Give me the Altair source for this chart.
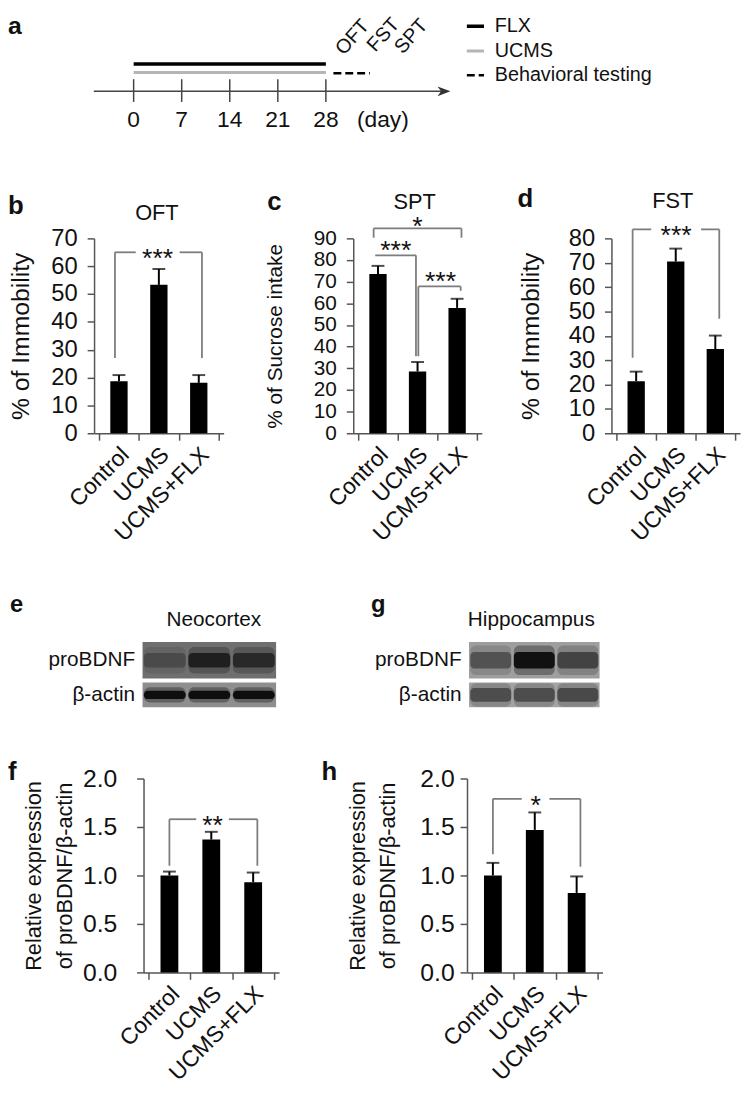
import altair as alt
import pandas as pd

FONT = "Liberation Sans"
AX = "#555555"
BR = "#7d7d7d"
TXT = "#111111"

# ------------------------------------------------------------------ data
groups = ["Control", "UCMS", "UCMS+FLX"]

# panel a : timeline
tl_days = [0, 7, 14, 21, 28]
tl_labels = ["0", "7", "14", "21", "28"]
phases = ["FLX", "UCMS", "Behavioral testing"]
phase_start = [0, 0, 29.1]
phase_end = [28, 28, 34.4]
phase_track = [6.23, 5.58, 5.53]
tests = ["OFT", "FST", "SPT"]
test_day = [30.6, 35.2, 39.2]
test_track = [6.85, 7.1, 6.95]

# panels b, c, d
oft_mean = [18.7, 53.3, 18.1]
oft_err = [20.9, 59.0, 20.9]
spt_mean = [73.5, 28.5, 57.9]
spt_err = [77.3, 32.9, 62.1]
fst_mean = [21.4, 70.5, 34.6]
fst_err = [25.3, 75.8, 40.1]

# panels f, h
neo_mean = [1.00, 1.37, 0.93]
neo_err = [1.04, 1.45, 1.03]
hip_mean = [1.00, 1.47, 0.82]
hip_err = [1.13, 1.65, 0.99]

# western blot band intensities (e, g)
neo_pro = [0.35, 0.9, 0.75]
neo_act = [0.95, 0.95, 0.95]
hip_pro = [0.45, 1.0, 0.55]
hip_act = [0.75, 0.75, 0.8]

# significance brackets
oft_br = [dict(x1=-0.1, x2=2.08, level=65, d1=27, d2=27, label="***", lx=0.97, ly=65, gap=0.55)]
spt_br = [
    dict(x1=-0.11, x2=2.11, level=94.6, d1=90.3, d2=90.3, label="*", lx=1.0, ly=98.5, gap=0),
    dict(x1=-0.07, x2=0.96, level=82.2, d1=None, d2=35.6, label="***", lx=0.45, ly=87.5, gap=0),
    dict(x1=1.02, x2=2.09, level=67.8, d1=35.6, d2=65.8, label="***", lx=1.58, ly=73.0, gap=0),
]
fst_br = [dict(x1=-0.09, x2=2.1, level=83.7, d1=31, d2=47, label="***", lx=1.01, ly=83.7, gap=0.63)]
neo_br = [dict(x1=0.0, x2=2.1, level=1.58, d1=1.10, d2=1.10, label="**", lx=1.03, ly=1.58, gap=0.39)]
hip_br = [dict(x1=0.0, x2=2.09, level=1.79, d1=1.22, d2=1.09, label="*", lx=1.02, ly=1.79, gap=0.33)]


def text_layer(txt, x, y, size, weight="normal", align="center", baseline="middle"):
    return alt.Chart(pd.DataFrame({"t": [txt]})).mark_text(
        fontSize=size, fontWeight=weight, align=align, baseline=baseline, color=TXT, font=FONT
    ).encode(x=alt.value(x), y=alt.value(y), text="t:N")


def spacer(w, h):
    return alt.Chart(pd.DataFrame({"t": [0]})).mark_rect(opacity=0).encode(
        x=alt.value(0), x2=alt.value(w), y=alt.value(0), y2=alt.value(h)
    ).properties(width=w, height=h)


# ------------------------------------------------------------------ panel a
def panel_a():
    W, H = 744, 132
    xs = alt.Scale(domain=[-18.3, 88.9], nice=False, zero=False)
    ys = alt.Scale(domain=[0, 10], nice=False, zero=False)

    def X(f):
        return alt.X(f, scale=xs, axis=None)

    def Y(f):
        return alt.Y(f, scale=ys, axis=None)

    line = alt.Chart(pd.DataFrame({"k": [0]})).transform_calculate(
        s="-5.8", e="45.4", y="4.14"
    ).mark_rule(color="#444444", strokeWidth=1.6).encode(x=X("s:Q"), x2="e:Q", y=Y("y:Q"))
    arrow = alt.Chart(pd.DataFrame({"k": [0]})).transform_calculate(
        x="45.2", y="4.14"
    ).mark_point(
        shape="M -1 -0.75 L 1 0 L -1 0.75 L -0.45 0 Z", filled=True, color="#333333", size=170, opacity=1
    ).encode(x=X("x:Q"), y=Y("y:Q"))
    dticks = alt.Chart(pd.DataFrame({"d": tl_days, "lab": tl_labels})).transform_calculate(
        lo="3.33", hi="5.07", ty="1.94"
    )
    ticks = dticks.mark_rule(color="#444444", strokeWidth=1.5).encode(x=X("d:Q"), y=Y("lo:Q"), y2="hi:Q")
    tlabs = dticks.mark_text(fontSize=23, color=TXT, baseline="middle").encode(
        x=X("d:Q"), y=Y("ty:Q"), text="lab:N"
    )
    day = alt.Chart(pd.DataFrame({"t": ["(day)"]})).transform_calculate(
        x="36.3", y="1.94"
    ).mark_text(fontSize=23, color=TXT, baseline="middle").encode(x=X("x:Q"), y=Y("y:Q"), text="t:N")

    leg = alt.Legend(
        title=None, orient="none", legendX=462, legendY=1, symbolType="stroke", symbolSize=300,
        symbolStrokeWidth=3.5, labelFontSize=20, labelOffset=9, rowPadding=4, padding=0,
        labelColor=TXT, labelFont=FONT,
    )
    pdf = pd.DataFrame({"phase": phases, "start": phase_start, "end": phase_end, "track": phase_track})
    plines = alt.Chart(pdf).mark_rule().encode(
        x=X("start:Q"), x2="end:Q", y=Y("track:Q"),
        color=alt.Color("phase:N", scale=alt.Scale(domain=phases, range=["#000000", "#b5b5b5", "#000000"]), legend=leg),
        strokeDash=alt.StrokeDash("phase:N", scale=alt.Scale(domain=phases, range=[[1, 0], [1, 0], [8, 4]]), legend=leg),
        strokeWidth=alt.StrokeWidth("phase:N", scale=alt.Scale(domain=phases, range=[3.5, 2.5, 3.2]), legend=None),
    )
    tdf = pd.DataFrame({"t": tests, "d": test_day, "y": test_track})
    tlab = alt.Chart(tdf).mark_text(angle=312, align="left", baseline="alphabetic", fontSize=20, color=TXT).encode(
        x=X("d:Q"), y=Y("y:Q"), text="t:N"
    )
    letter = text_layer("a", 0, 11, 25, "bold", "left")
    return alt.layer(line, arrow, ticks, tlabs, day, plines, tlab, letter).properties(width=W, height=H)


# ------------------------------------------------------------------ bar panels
def bar_panel(means, errs, ymax, ystep, width, height, ytitle, ytitle_dx, ytitle_size, title, title_dx, title_dy,
              letter, letter_dx, letter_dy, brackets, fmt="d", bar_w=17.5, tick_font=24, label_pad=10):
    df = pd.DataFrame({"group": groups, "idx": [0, 1, 2], "mean": means, "err": errs})
    xs = alt.Scale(domain=[-0.5, 2.5], nice=False, zero=False)
    ys = alt.Scale(domain=[0, ymax], nice=False, zero=True)
    expr = "".join(f"datum.value == {i + 0.5} ? '{g}' : " for i, g in enumerate(groups)) + "''"
    xaxis = alt.Axis(
        values=[-0.5, 0.5, 1.5, 2.5], labelExpr=expr, labelOffset=-width / 6, labelAngle=315,
        labelOverlap=False, labelFlush=False, labelBound=False, title=None, grid=False,
        tickSize=7, labelPadding=3, labelFontSize=23,
    )
    n = int(round(ymax / ystep))
    yvals = [round(i * ystep, 3) for i in range(n + 1)]
    yaxis = alt.Axis(
        values=yvals, format=fmt, title=ytitle, titleX=ytitle_dx, titleY=height / 2, titleAngle=270,
        titleAlign="center", titleBaseline="middle", grid=False, tickSize=7, labelFontSize=tick_font,
        labelPadding=label_pad, titleFontSize=ytitle_size, titleFontWeight="normal", labelFlush=False,
        labelOverlap=False, titleLineHeight=31,
    )

    def X(f):
        return alt.X(f, scale=xs, axis=xaxis)

    def Y(f):
        return alt.Y(f, scale=ys, axis=yaxis)

    base = alt.Chart(df)
    bars = base.mark_bar(size=bar_w, color="black").encode(x=X("idx:Q"), y=Y("mean:Q"))
    eline = base.mark_rule(color="black", strokeWidth=2).encode(x=X("idx:Q"), y=Y("mean:Q"), y2="err:Q")
    caps = base.mark_tick(size=13, thickness=2, orient="horizontal", color="black").encode(x=X("idx:Q"), y=Y("err:Q"))

    segs = []
    labs = []
    for b in brackets:
        lv = b["level"]
        if b["gap"] > 0:
            segs.append((b["x1"], b["lx"] - b["gap"], lv, lv))
            segs.append((b["lx"] + b["gap"], b["x2"], lv, lv))
        else:
            segs.append((b["x1"], b["x2"], lv, lv))
        if b["d1"] is not None:
            segs.append((b["x1"], b["x1"], lv, b["d1"]))
        if b["d2"] is not None:
            segs.append((b["x2"], b["x2"], lv, b["d2"]))
        labs.append((b["lx"], b["ly"], b["label"]))
    sdf = pd.DataFrame(segs, columns=["x", "x2", "y", "y2"])
    ldf = pd.DataFrame(labs, columns=["x", "y", "t"])
    brk = alt.Chart(sdf).mark_rule(color=BR, strokeWidth=1.8).encode(x=X("x:Q"), x2="x2:Q", y=Y("y:Q"), y2="y2:Q")
    stars = alt.Chart(ldf).mark_text(fontSize=27, color=TXT, baseline="middle", dy=7).encode(
        x=X("x:Q"), y=Y("y:Q"), text="t:N"
    )
    layers = [bars, eline, caps, brk, stars, text_layer(letter, letter_dx, letter_dy, 26, "bold", "left")]
    if title:
        layers.append(text_layer(title, width / 2 + title_dx, title_dy, 22))
    return alt.layer(*layers).properties(width=width, height=height)


# ------------------------------------------------------------------ blots
def strip(label, intens, bg, band_color, width, height, band_h, extra=()):
    Y = alt.Y("row:N", title=None,
              axis=alt.Axis(ticks=False, domain=False, labelFontSize=21, labelPadding=8, labelColor=TXT, labelFont=FONT),
              scale=alt.Scale(paddingInner=0, paddingOuter=0))
    X = alt.X("lane:N", sort=groups, axis=None, scale=alt.Scale(domain=groups, paddingInner=0.06, paddingOuter=0.03))
    bgl = alt.Chart(pd.DataFrame({"row": [label]})).mark_rect(color=bg).encode(
        y=Y, x=alt.value(0), x2=alt.value(width)
    )
    bdf = pd.DataFrame({"lane": groups, "row": [label] * 3, "intensity": intens})
    halo = alt.Chart(bdf).transform_calculate(o="datum.intensity * 0.35").mark_bar(
        color=band_color, height={"band": min(band_h * 1.8, 0.95)}, cornerRadius=6
    ).encode(x=X, y=Y, opacity=alt.Opacity("o:Q", scale=None, legend=None))
    core = alt.Chart(bdf).mark_bar(color=band_color, height={"band": band_h}, cornerRadius=4).encode(
        x=X, y=Y, opacity=alt.Opacity("intensity:Q", scale=None, legend=None)
    )
    return alt.layer(bgl, halo, core, *extra).properties(width=width, height=height)


# ------------------------------------------------------------------ assemble
a = panel_a()

b = bar_panel(oft_mean, oft_err, 70, 10, 131, 197, "% of Immobility", -74, 25, "OFT", -2, -26,
              "b", -87, -33, oft_br)
c = bar_panel(spt_mean, spt_err, 90, 10, 130, 197, "% of Sucrose intake", -79, 21, "SPT", -3, -37,
              "c", -87, -37, spt_br, tick_font=21)
d = bar_panel(fst_mean, fst_err, 80, 10, 130, 197, "% of Immobility", -82, 25, "FST", -3, -38,
              "d", -95, -40, fst_br)

e_pro = strip("proBDNF", neo_pro, "#6f6f6f", "#1a1a1a", 135, 37, 0.4,
              extra=(text_layer("Neocortex", 72, -22, 21), text_layer("e", -134, -37, 24, "bold", "left")))
e_act = strip("β-actin", neo_act, "#8e8e8e", "#0a0a0a", 135, 25, 0.34)
g_pro = strip("proBDNF", hip_pro, "#9e9e9e", "#111111", 132, 37, 0.45,
              extra=(text_layer("Hippocampus", 63, -22, 21), text_layer("g", -99, -37, 24, "bold", "left")))
g_act = strip("β-actin", hip_act, "#a3a3a3", "#3a3a3a", 132, 25, 0.55)

f = bar_panel(neo_mean, neo_err, 2.0, 0.5, 137, 196, ["Relative expression", "of proBDNF/β-actin"], -111, 22,
              None, 0, 0, "f", -137, -7, neo_br, fmt=".1f", bar_w=18, tick_font=25, label_pad=20)
h = bar_panel(hip_mean, hip_err, 2.0, 0.5, 137, 196, ["Relative expression", "of proBDNF/β-actin"], -111, 22,
              None, 0, 0, "h", -147, -7, hip_br, fmt=".1f", bar_w=18, tick_font=25, label_pad=6)

# note: with flush bounds a nested concat counts as zero size, so the spacers that
# follow a nested block also carry that block's own extent.
rowB = alt.hconcat(spacer(87, 197), b, spacer(131, 197), c, spacer(131, 197), d, spacing=0, bounds="flush")
rowEG = alt.hconcat(
    spacer(136, 66), alt.vconcat(e_pro, e_act, spacing=4, bounds="flush"),
    spacer(135 + 195, 66), alt.vconcat(g_pro, g_act, spacing=4, bounds="flush"),
    spacing=0, bounds="flush",
)
rowFH = alt.hconcat(spacer(137, 196), f, spacer(190, 196), h, spacing=0, bounds="flush")

chart = alt.vconcat(
    a, spacer(1, 94), rowB, spacer(1, 197 + 211), rowEG, spacer(1, 66 + 72), rowFH,
    spacing=0, bounds="flush",
).properties(padding=0).configure(font=FONT).configure_view(stroke=None).configure_axis(
    domainColor=AX, tickColor=AX, domainWidth=1.5, tickWidth=1.5, labelColor=TXT, titleColor=TXT,
    labelFont=FONT, titleFont=FONT,
)

chart.save("out.html", embed_options={"renderer": "svg", "actions": False})
